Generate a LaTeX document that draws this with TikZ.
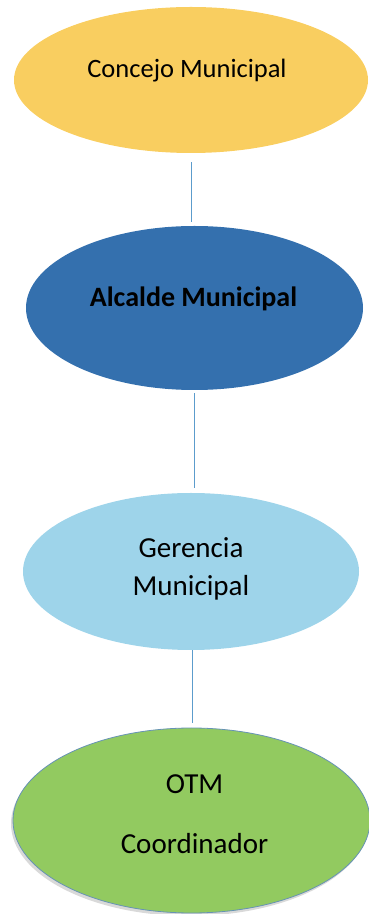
\documentclass[tikz,border=0pt]{standalone}
\usepackage{fontspec}
\setmainfont{Carlito}
\usetikzlibrary{shapes.geometric,shadows}
\definecolor{amarillo}{RGB}{249,206,96}
\definecolor{azuloscuro}{RGB}{52,112,174}
\definecolor{celeste}{RGB}{158,212,234}
\definecolor{verde}{RGB}{146,202,96}
\definecolor{linea}{RGB}{92,156,204}
\tikzset{
  elli/.style={ellipse, inner sep=0pt},
  lbl/.style={font=\fontsize{29}{38}\selectfont, align=center, inner sep=0pt},
  conn/.style={draw=linea, line width=1pt}
}
\begin{document}
\begin{tikzpicture}[x=1pt, y=1pt]
            \useasboundingbox (0,0) rectangle (369,914);
            \node[elli, fill=amarillo, minimum width=354, minimum height=146] (concejo) at (191, 834) {};
            \node[elli, fill=azuloscuro, minimum width=337, minimum height=164] (alcalde) at (194.5, 606) {};
            \node[elli, fill=celeste, minimum width=336, minimum height=157] (gerencia) at (191, 342.5) {};
            \node[elli, fill=verde, draw=linea!70!gray, line width=0.8pt, drop shadow={shadow xshift=-2pt, shadow yshift=-3pt, opacity=0.3},
                  minimum width=357, minimum height=185] (otm) at (191.5, 93.5) {};

            \node[lbl, font=\fontsize{26.5}{32}\selectfont, anchor=base] (concejoTxt) at (187, 836) {Concejo Municipal};
            \node[lbl, font=\fontsize{28}{32}\selectfont\bfseries, anchor=base] (alcaldeTxt) at (193.5, 607) {Alcalde Municipal};
            \node[lbl] (gerenciaTxt) at ([yshift=3]gerencia.center) {Gerencia\\Municipal};
            \node[lbl, font=\fontsize{29}{60}\selectfont] (otmTxt) at ([xshift=3, yshift=6.5]otm.center) {OTM\\Coordinador};

            \draw[conn, shorten <=9pt, shorten >=4pt] (concejo.south) -- (concejo.south |- alcalde.north);
            \draw[conn, shorten <=3pt, shorten >=5pt] (alcalde.south) -- (alcalde.south |- gerencia.north);
            \draw[conn, shorten >=5pt] ([xshift=1]gerencia.south) -- ([xshift=1]gerencia.south |- otm.north);
        \end{tikzpicture}
\end{document}
